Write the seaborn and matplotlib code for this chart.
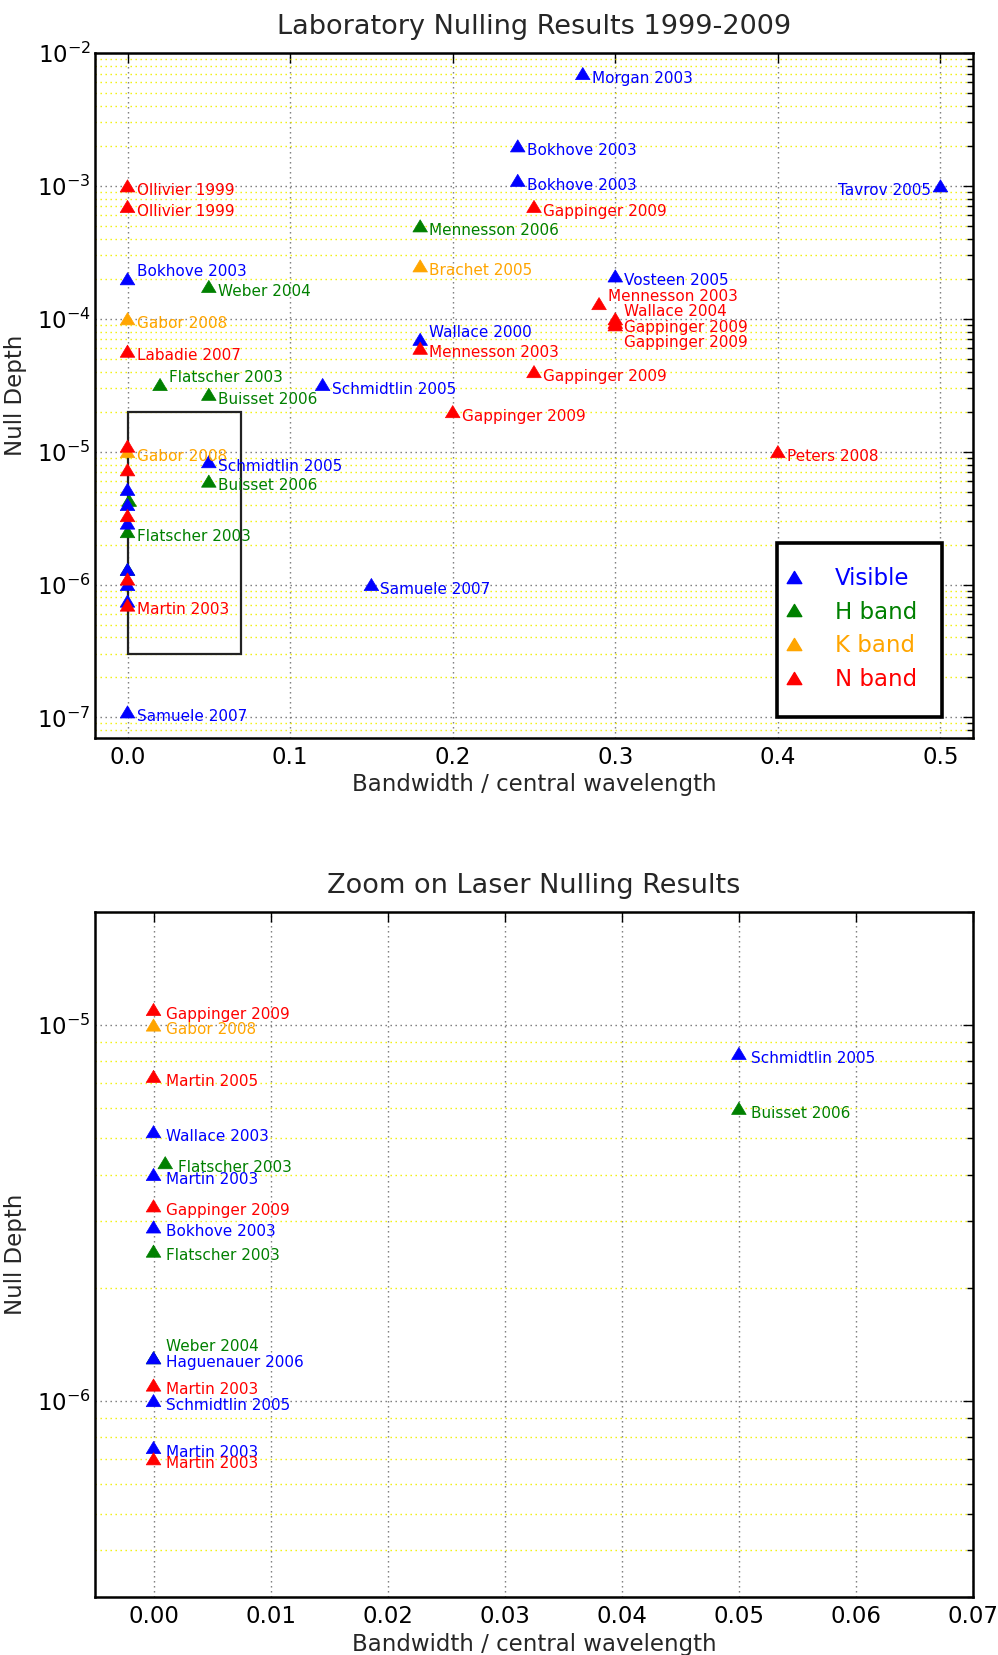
import matplotlib
matplotlib.use("Agg")
import matplotlib.pyplot as plt
import seaborn as sns
import pandas as pd
from matplotlib.path import Path
from matplotlib.patches import Rectangle
from matplotlib.lines import Line2D
from matplotlib.ticker import LogLocator, NullFormatter

# ---------------- data ----------------
bands = ["Visible", "H band", "K band", "N band"]
band_colors = ["blue", "green", "orange", "red"]

vis_names = ["Morgan 2003", "Bokhove 2003", "Bokhove 2003", "Tavrov 2005", "Bokhove 2003",
             "Vosteen 2005", "Wallace 2000", "Schmidtlin 2005", "Schmidtlin 2005", "Samuele 2007",
             "Samuele 2007", "Wallace 2003", "Martin 2003", "Bokhove 2003", "Haguenauer 2006",
             "Schmidtlin 2005", "Martin 2003"]
vis_bw = [0.28, 0.24, 0.24, 0.5, 0.0, 0.3, 0.18, 0.12, 0.05, 0.15, 0.0, 0.0, 0.0, 0.0, 0.0, 0.0, 0.0]
vis_depth = [7e-3, 2e-3, 1.1e-3, 1e-3, 2e-4, 2.1e-4, 7e-5, 3.2e-5, 8.4e-6, 1e-6, 1.1e-7,
             5.2e-6, 4e-6, 2.9e-6, 1.3e-6, 1e-6, 7.5e-7]
vis_top_label = [1, 1, 1, 1, 1, 1, 1, 1, 1, 1, 1, 0, 0, 0, 0, 0, 0]

h_names = ["Mennesson 2006", "Weber 2004", "Flatscher 2003", "Buisset 2006", "Buisset 2006",
           "Flatscher 2003", "Flatscher 2003", "Weber 2004"]
h_bw = [0.18, 0.05, 0.02, 0.05, 0.05, 0.001, 0.0, 0.0]
h_depth = [5e-4, 1.75e-4, 3.2e-5, 2.7e-5, 6e-6, 4.3e-6, 2.5e-6, 1.3e-6]
h_top_label = [1, 1, 1, 1, 1, 0, 1, 0]

k_names = ["Brachet 2005", "Gabor 2008", "Gabor 2008"]
k_bw = [0.18, 0.0, 0.0]
k_depth = [2.5e-4, 1e-4, 1e-5]
k_top_label = [1, 1, 1]

n_names = ["Ollivier 1999", "Ollivier 1999", "Gappinger 2009", "Mennesson 2003", "Wallace 2004",
           "Gappinger 2009", "Gappinger 2009", "Labadie 2007", "Mennesson 2003", "Gappinger 2009",
           "Gappinger 2009", "Peters 2008", "Gappinger 2009", "Martin 2005", "Gappinger 2009",
           "Martin 2003", "Martin 2003"]
n_bw = [0.0, 0.0, 0.25, 0.29, 0.3, 0.3, 0.3, 0.0, 0.18, 0.25, 0.2, 0.4, 0.0, 0.0, 0.0, 0.0, 0.0]
n_depth = [1e-3, 7e-4, 7e-4, 1.3e-4, 1e-4, 9.4e-5, 9e-5, 5.7e-5, 6e-5, 4e-5, 2e-5, 1e-5,
           1.1e-5, 7.3e-6, 3.3e-6, 1.1e-6, 7e-7]
n_top_label = [1, 1, 1, 1, 1, 1, 1, 1, 1, 1, 1, 1, 0, 0, 0, 0, 1]

zoom_bw = [0.0, 0.07]
zoom_depth = [3e-7, 2e-5]

# ---------------- frame ----------------
frames = []
for band, names, bw, depth, lab in [
        ("H band", h_names, h_bw, h_depth, h_top_label),
        ("K band", k_names, k_bw, k_depth, k_top_label),
        ("Visible", vis_names, vis_bw, vis_depth, vis_top_label),
        ("N band", n_names, n_bw, n_depth, n_top_label)]:
    frames.append(pd.DataFrame({"name": names, "bw": bw, "depth": depth,
                                "band": band, "top_label": lab,
                                "idx": range(len(names))}))
df = pd.concat(frames, ignore_index=True)
palette = dict(zip(bands, band_colors))

# label placement (style only)
top_place = {("H band", 2): "above", ("N band", 3): "above", ("N band", 4): "above",
             ("N band", 6): "lower", ("Visible", 3): "left",
             ("Visible", 4): "above", ("Visible", 6): "above"}
bottom_place = {("H band", 7): "above_hi"}

# ---------------- style ----------------
sns.set_style("white")
plt.rcParams["font.family"] = ["DejaVu Sans"]
plt.rcParams["mathtext.default"] = "regular"

tri = Path([(0, 1), (-1.2, -1), (1.2, -1), (0, 1)],
           [Path.MOVETO, Path.LINETO, Path.LINETO, Path.CLOSEPOLY])

W, H = 998, 1655
fig = plt.figure(figsize=(W / 100, H / 100), dpi=100)
ax1 = fig.add_axes([95 / W, 1 - 738 / H, 878 / W, 685 / H])
ax2 = fig.add_axes([95 / W, 1 - 1597 / H, 878 / W, 685 / H])

dots = (0, (1, 2.6))


def style_axes(ax, xlim, ylim, xlabel_text):
    ax.set_yscale("log")
    ax.set_xlim(*xlim)
    ax.set_ylim(*ylim)
    ax.yaxis.set_major_locator(LogLocator(base=10))
    ax.yaxis.set_minor_locator(LogLocator(base=10, subs=range(2, 10), numticks=20))
    ax.yaxis.set_minor_formatter(NullFormatter())
    ax.grid(True, which="major", axis="both", color="0.45", linestyle=dots, linewidth=1.0)
    ax.grid(True, which="minor", axis="y", color="#f0f000", linestyle=dots, linewidth=1.0)
    ax.tick_params(which="both", direction="in", top=True, right=True, colors="black")
    ax.tick_params(which="major", length=7, width=1)
    ax.tick_params(which="minor", length=4, width=1)
    ax.tick_params(axis="x", which="major", pad=6, labelsize=16.5)
    ax.tick_params(axis="y", which="major", pad=3, labelsize=16.5)
    for sp in ax.spines.values():
        sp.set_linewidth(1.8)
        sp.set_color("black")
        sp.set_visible(True)
    ax.set_xlabel(xlabel_text, fontsize=16.5, labelpad=3)
    ax.set_ylabel("Null Depth", fontsize=16.5, labelpad=7)


def draw_points(ax):
    sns.scatterplot(data=df, x="bw", y="depth", hue="band", palette=palette,
                    marker=tri, s=110, edgecolor="face", linewidth=0.5,
                    legend=False, ax=ax, zorder=3)


def annotate(ax, rows, places, dx, fs):
    for _, r in rows.iterrows():
        p = places.get((r["band"], r["idx"]), "right")
        if p == "right":
            off, ha, va = (dx, 2), "left", "top"
        elif p == "above":
            off, ha, va = (dx, 2), "left", "baseline"
        elif p == "above_hi":
            off, ha, va = (dx, 5), "left", "baseline"
        elif p == "lower":
            off, ha, va = (dx, -7), "left", "top"
        else:  # left
            off, ha, va = (-dx, 2), "right", "top"
        ax.annotate(r["name"], (r["bw"], r["depth"]), xytext=off,
                    textcoords="offset points", ha=ha, va=va,
                    color=palette[r["band"]], fontsize=fs, zorder=4)


# ---------------- top panel ----------------
draw_points(ax1)
style_axes(ax1, (-0.02, 0.52), (7e-8, 1e-2), "Bandwidth / central wavelength")
ax1.set_title("Laboratory Nulling Results 1999-2009", fontsize=19.5, pad=14)
annotate(ax1, df[df["top_label"] == 1], top_place, 6.5, 11)
ax1.add_patch(Rectangle((zoom_bw[0], zoom_depth[0]), zoom_bw[1] - zoom_bw[0],
                        zoom_depth[1] - zoom_depth[0], fill=False,
                        edgecolor="#222222", linewidth=1.6, zorder=2.5))

# legend box + legend
ax1.add_patch(Rectangle((0.777, 0.0307), 0.188, 0.254, transform=ax1.transAxes,
                        facecolor="white", edgecolor="black", linewidth=2.6, zorder=4))
handles = [Line2D([], [], marker=tri, color=c, linestyle="none", markersize=10.5)
           for c in band_colors]
leg = ax1.legend(handles, bands, loc="upper left", bbox_to_anchor=(0.788, 0.250),
                 frameon=False, fontsize=16.5, handlelength=0.6, handletextpad=1.5,
                 labelspacing=0.47, borderpad=0, borderaxespad=0, numpoints=1)
leg.set_zorder(5)
for t, c in zip(leg.get_texts(), band_colors):
    t.set_color(c)

# ---------------- bottom panel ----------------
draw_points(ax2)
style_axes(ax2, (-0.005, 0.07), (zoom_depth[0], zoom_depth[1]), "Bandwidth / central wavelength")
ax2.set_title("Zoom on Laser Nulling Results", fontsize=19.5, pad=14)
inside = df[(df["bw"] <= zoom_bw[1]) & (df["depth"] >= zoom_depth[0]) & (df["depth"] <= zoom_depth[1])]
annotate(ax2, inside, bottom_place, 9, 11)

fig.savefig("out.png", dpi=100)
